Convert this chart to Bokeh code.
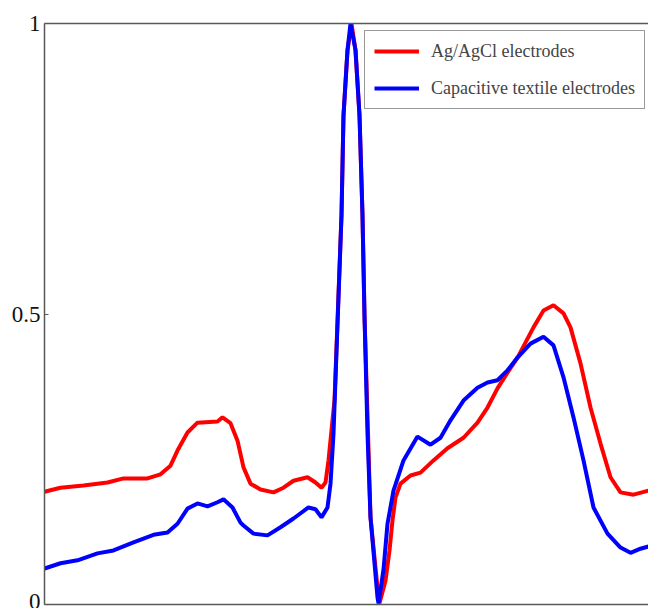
from bokeh.plotting import figure
from bokeh.models import Range1d, FixedTicker, LinearAxis, Legend, LegendItem
from bokeh.embed import file_html
from bokeh.resources import INLINE

# sample index (arbitrary time units)
x_agcl = [0, 16, 39, 63, 79, 103, 116, 126, 133, 143, 153, 173, 178, 186, 193, 199, 206, 216,
          229, 239, 249, 263, 271, 277, 281, 284, 288, 290, 297, 299, 303, 307, 311, 315, 318,
          320, 323, 326, 333, 335, 341, 345, 348, 351, 356, 366, 376, 389, 403, 419, 433, 443,
          453, 463, 473, 489, 499, 509, 519, 526, 536, 546, 556, 566, 576, 589, 604]
y_agcl = [0.194, 0.201, 0.205, 0.210, 0.217, 0.217, 0.224, 0.239, 0.265, 0.296, 0.313, 0.315,
          0.322, 0.312, 0.282, 0.236, 0.208, 0.198, 0.193, 0.201, 0.213, 0.219, 0.210, 0.201,
          0.210, 0.248, 0.317, 0.351, 0.670, 0.842, 0.954, 1.000, 0.954, 0.842, 0.670, 0.497,
          0.325, 0.150, 0.029, 0.002, 0.041, 0.093, 0.145, 0.184, 0.208, 0.222, 0.227, 0.248,
          0.269, 0.287, 0.313, 0.339, 0.372, 0.399, 0.425, 0.477, 0.506, 0.515, 0.501, 0.477,
          0.415, 0.339, 0.277, 0.219, 0.193, 0.189, 0.196]

x_textile = [0, 16, 33, 53, 69, 89, 109, 123, 133, 143, 153, 163, 173, 179, 188, 196, 199, 209,
             223, 236, 249, 264, 271, 277, 283, 286, 289, 297, 299, 303, 306, 311, 315, 318, 320,
             323, 326, 333, 334, 339, 343, 349, 359, 373, 386, 396, 406, 419, 433, 443, 453, 463,
             473, 486, 499, 509, 519, 529, 539, 549, 563, 576, 586, 596, 604]
y_textile = [0.062, 0.071, 0.076, 0.088, 0.093, 0.107, 0.120, 0.124, 0.139, 0.165, 0.174, 0.169,
             0.176, 0.181, 0.167, 0.141, 0.136, 0.122, 0.119, 0.133, 0.148, 0.167, 0.164, 0.150,
             0.167, 0.208, 0.294, 0.670, 0.842, 0.954, 1.000, 0.954, 0.842, 0.670, 0.497, 0.294,
             0.150, 0.012, 0.002, 0.060, 0.139, 0.196, 0.248, 0.289, 0.275, 0.287, 0.317, 0.351,
             0.373, 0.382, 0.386, 0.403, 0.425, 0.449, 0.461, 0.446, 0.391, 0.322, 0.248, 0.167,
             0.122, 0.098, 0.089, 0.096, 0.100]

y_ticks = [0, 0.5, 1]
y_tick_labels = {0: "0", 0.5: "0.5", 1: "1"}
series_names = ["Ag/AgCl electrodes", "Capacitive textile electrodes"]

AXIS = "#595959"

p = figure(width=648, height=608, output_backend="svg", toolbar_location=None,
           x_range=Range1d(0, 604), y_range=Range1d(0, 1),
           x_axis_location=None, y_axis_location=None,
           min_border_left=44, min_border_right=0, min_border_top=23, min_border_bottom=4)
p.outline_line_color = None
p.grid.visible = False
p.background_fill_color = "white"
p.border_fill_color = "white"

left = LinearAxis(ticker=FixedTicker(ticks=y_ticks), major_label_overrides=y_tick_labels)
left.axis_line_color = AXIS
left.axis_line_width = 1.5
left.major_tick_in = 4
left.major_tick_out = 0
left.major_tick_line_color = AXIS
left.minor_tick_line_color = None
left.major_label_standoff = 4
left.major_label_text_font = "Liberation Serif"
left.major_label_text_font_size = "23px"
left.major_label_text_color = "#111111"
p.add_layout(left, "left")

for loc in ("below", "above"):
    ax = LinearAxis(ticker=FixedTicker(ticks=[]))
    ax.axis_line_color = AXIS
    ax.axis_line_width = 1.5
    ax.major_tick_in = 0
    ax.major_tick_out = 0
    ax.minor_tick_line_color = None
    ax.major_label_standoff = 0
    ax.major_label_text_font_size = "0px"
    p.add_layout(ax, loc)

r1 = p.line(x_agcl, y_agcl, line_color="#ff0000", line_width=4)
r2 = p.line(x_textile, y_textile, line_color="#0000ff", line_width=4)

legend = Legend(items=[LegendItem(label=series_names[0], renderers=[r1]),
                       LegendItem(label=series_names[1], renderers=[r2])],
                location=(320, 495))
legend.glyph_width = 45
legend.glyph_height = 22
legend.label_standoff = 12
legend.label_text_font = "Liberation Serif"
legend.label_text_font_size = "18px"
legend.label_height = 22
legend.padding = 9
legend.spacing = 15
legend.margin = 0
legend.border_line_color = "#333333"
legend.border_line_width = 1
legend.background_fill_alpha = 1
p.add_layout(legend, "center")

open("out.html", "w").write(file_html(p, INLINE))
